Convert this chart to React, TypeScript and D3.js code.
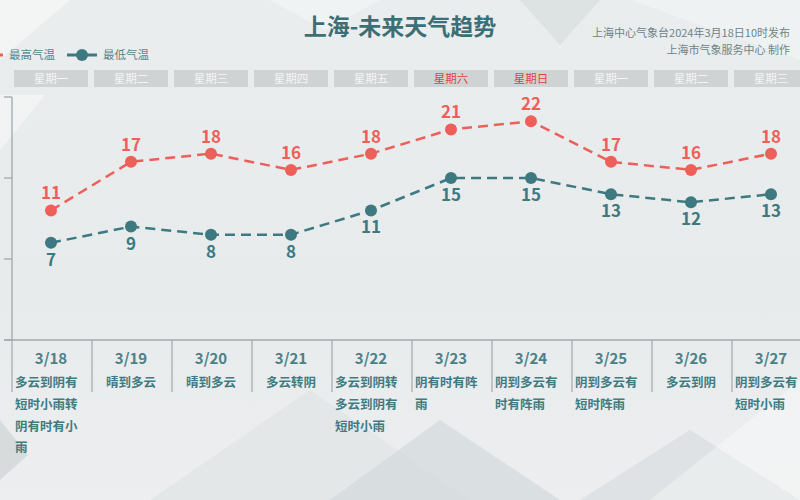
import React from "react";
import * as d3 from "d3";

const dates = ["3/18", "3/19", "3/20", "3/21", "3/22", "3/23", "3/24", "3/25", "3/26", "3/27"];
const weekdays = ["星期一", "星期二", "星期三", "星期四", "星期五", "星期六", "星期日", "星期一", "星期二", "星期三"];
const weekendFlags = [false, false, false, false, false, true, true, false, false, false];
const highTemps = [11, 17, 18, 16, 18, 21, 22, 17, 16, 18];
const lowTemps = [7, 9, 8, 8, 11, 15, 15, 13, 12, 13];
const weatherTexts = [
  "多云到阴有短时小雨转阴有时有小雨",
  "晴到多云",
  "晴到多云",
  "多云转阴",
  "多云到阴转多云到阴有短时小雨",
  "阴有时有阵雨",
  "阴到多云有时有阵雨",
  "阴到多云有短时阵雨",
  "多云到阴",
  "阴到多云有短时小雨",
];
const yTicks = [-5, 5, 15, 25];
const titleText = "上海-未来天气趋势";
const sourceLines = ["上海中心气象台2024年3月18日10时发布", "上海市气象服务中心 制作"];
const legendNames = ["最高气温", "最低气温"];

const W = 800;
const H = 500;
const FONT = "'Noto Sans CJK SC', 'Noto Sans', sans-serif";
const RED = "#ef5f5a";
const TEAL = "#3d7980";

function wrap(s: string, n: number): string[] {
  const out: string[] = [];
  for (let i = 0; i < s.length; i += n) out.push(s.slice(i, i + n));
  return out;
}

export default function App() {
  const x = d3.scaleBand<string>().domain(dates).range([11, 811]).padding(0);
  const y = d3.scaleLinear().domain([-5, 25]).range([340, 97]);
  const cx = (d: string) => (x(d) as number) + x.bandwidth() / 2;

  const line = d3
    .line<number>()
    .x((_, i) => cx(dates[i]))
    .y((v) => y(v));

  const boundaries = dates.map((d) => x(d) as number);

  return (
    <svg
      width={W}
      height={H}
      style={{ position: "absolute", left: 0, top: 0, display: "block" }}
      fontFamily={FONT}
    >
      <defs>
        <linearGradient id="bg" x1="0" y1="0" x2="0" y2="1">
          <stop offset="0" stopColor="#e9eded" />
          <stop offset="0.6" stopColor="#e8ebec" />
          <stop offset="1" stopColor="#eceeef" />
        </linearGradient>
      </defs>
      <rect x={0} y={0} width={W} height={H} fill="url(#bg)" />
      {/* decorative background shapes */}
      <polygon points="0,0 70,0 0,60" fill="#ffffff" opacity={0.45} />
      <polygon points="0,95 45,95 0,150" fill="#ffffff" opacity={0.4} />
      <polygon points="270,0 380,0 325,30" fill="#ffffff" opacity={0.35} />
      <polygon points="520,0 600,0 560,45" fill="#cfd6d8" opacity={0.45} />
      <polygon points="630,0 800,0 800,60" fill="#ffffff" opacity={0.3} />
      <polygon points="0,420 28,455 0,480" fill="#c9cfd1" opacity={0.6} />
      <polygon points="150,500 310,390 470,500" fill="#dfe4e5" opacity={0.7} />
      <polygon points="330,500 440,420 560,500" fill="#d3d9db" opacity={0.7} />
      <polygon points="580,500 690,430 800,500" fill="#d8dddf" opacity={0.7} />
      <polygon points="650,500 800,380 800,500" fill="#ffffff" opacity={0.35} />

      {/* title */}
      <text x={400} y={35} textAnchor="middle" fontSize={23} fontWeight="bold" fill="#3b6f75">
        {titleText}
      </text>
      {sourceLines.map((s, i) => (
        <text key={i} x={790} y={37 + i * 17} textAnchor="end" fontSize={11} fill="#6e8387">
          {s}
        </text>
      ))}

      {/* legend */}
      <g>
        <line x1={-27} x2={3} y1={55} y2={55} stroke={RED} strokeWidth={3} />
        <circle cx={-12} cy={55} r={6} fill={RED} />
        <text x={9} y={55} dy="0.35em" fontSize={11.5} fill="#55868b">
          {legendNames[0]}
        </text>
        <line x1={67} x2={97} y1={55} y2={55} stroke={TEAL} strokeWidth={3} />
        <circle cx={82} cy={55} r={6} fill={TEAL} />
        <text x={103} y={55} dy="0.35em" fontSize={11.5} fill="#55868b">
          {legendNames[1]}
        </text>
      </g>

      {/* weekday header */}
      {dates.map((d, i) => (
        <g key={"wd" + i}>
          <rect x={cx(d) - 37} y={70} width={74} height={17} fill="#cfd3d4" />
          <text
            x={cx(d)}
            y={78.5}
            dy="0.35em"
            textAnchor="middle"
            fontSize={11.5}
            fill={weekendFlags[i] ? "#e5413d" : "#f4f5f5"}
          >
            {weekdays[i]}
          </text>
        </g>
      ))}

      {/* y axis */}
      <line x1={12} x2={12} y1={y(25)} y2={y(-5)} stroke="#9aa3a5" strokeWidth={1.2} />
      {yTicks.map((t) => (
        <line key={t} x1={4} x2={12} y1={y(t)} y2={y(t)} stroke="#9aa3a5" strokeWidth={1.2} />
      ))}

      {/* x axis */}
      <line x1={4} x2={W} y1={y(-5)} y2={y(-5)} stroke="#a2aaac" strokeWidth={1.5} />
      {boundaries.map((b, i) => (
        <line key={"b" + i} x1={b + 1} x2={b + 1} y1={y(-5)} y2={392} stroke="#a2aaac" strokeWidth={1.2} />
      ))}

      {/* lines */}
      <path d={line(highTemps) || ""} fill="none" stroke={RED} strokeWidth={2.5} strokeDasharray="10,6" />
      <path d={line(lowTemps) || ""} fill="none" stroke={TEAL} strokeWidth={2.5} strokeDasharray="10,6" />
      {highTemps.map((v, i) => (
        <g key={"h" + i}>
          <circle cx={cx(dates[i])} cy={y(v)} r={6} fill={RED} />
          <text x={cx(dates[i])} y={y(v) - 17} dy="0.35em" textAnchor="middle" fontSize={17} fontWeight="bold" fill={RED}>
            {v}
          </text>
        </g>
      ))}
      {lowTemps.map((v, i) => (
        <g key={"l" + i}>
          <circle cx={cx(dates[i])} cy={y(v)} r={6} fill={TEAL} />
          <text x={cx(dates[i])} y={y(v) + 17} dy="0.35em" textAnchor="middle" fontSize={17} fontWeight="bold" fill={TEAL}>
            {v}
          </text>
        </g>
      ))}

      {/* category labels */}
      {dates.map((d, i) => {
        const txt = weatherTexts[i];
        const lines = txt.length > 5 ? wrap(txt, 5) : [txt];
        const multi = lines.length > 1;
        return (
          <g key={"c" + i}>
            <text x={cx(d)} y={359} dy="0.35em" textAnchor="middle" fontSize={15} fontWeight="bold" fill="#4b8187">
              {d}
            </text>
            {lines.map((ln, j) => (
              <text
                key={j}
                x={multi ? (x(d) as number) + 4 : cx(d)}
                y={383 + j * 21.7}
                dy="0.35em"
                textAnchor={multi ? "start" : "middle"}
                fontSize={12.5}
                fontWeight="bold"
                fill="#3f7b81"
              >
                {ln}
              </text>
            ))}
          </g>
        );
      })}
    </svg>
  );
}
